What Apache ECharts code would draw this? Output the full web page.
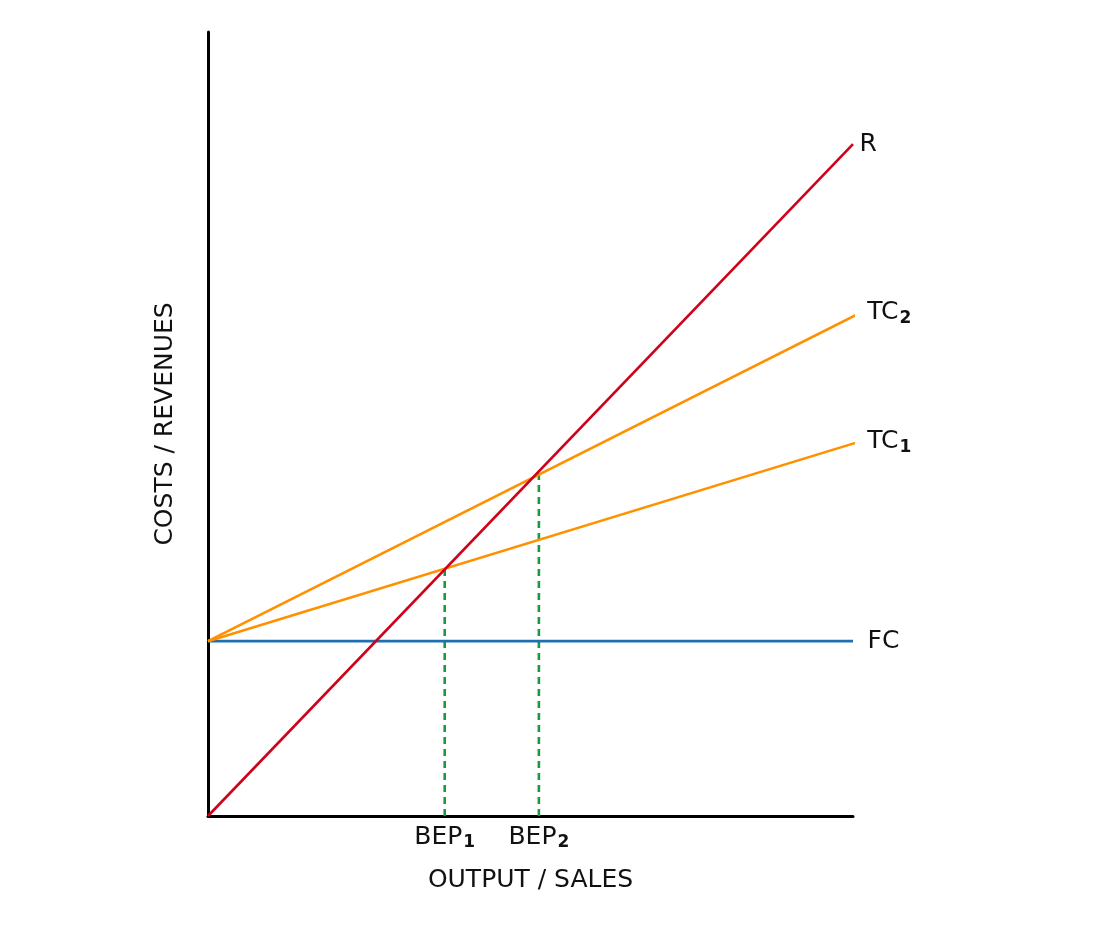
<!DOCTYPE html>
<html><head><meta charset="utf-8">
<script src="https://cdn.jsdelivr.net/npm/echarts@6/dist/echarts.min.js"></script>
<style>html,body{margin:0;padding:0;background:#fff}#c{width:1100px;height:934px}</style>
</head><body><div id="c"></div>
<script>
const revenue = [[0, 0], [100, 85.7]];
const tc2 = [[0, 22.3], [101.2, 64.2]];
const tc1 = [[0, 22.3], [101.2, 47.8]];
const fc = [[0, 22.3], [100, 22.3]];
const bep1 = [[36.7, 0], [36.7, 31.5]];
const bep2 = [[51.3, 0], [51.3, 43.8]];
const lineLabels = ['R', 'TC{s|2}', 'TC{s|1}', 'FC'];
const bepLabels = ['BEP{s|1}', 'BEP{s|2}'];
const axisNames = ['OUTPUT / SALES', 'COSTS / REVENUES'];

const FONT = 'DejaVu Sans';
const FS = 25;
const rich = {
  s: {fontSize: 17, fontWeight: 'bold', fontFamily: FONT, color: '#111', padding: [12, 0, 0, 1]}
};
const chart = echarts.init(document.getElementById('c'));
function endLab(text, dist) {
  return {show: true, formatter: p => p.dataIndex === 1 ? text : '', position: 'right', distance: dist,
    fontSize: FS, fontFamily: FONT, color: '#111', rich: rich};
}
const hidden = {color: 'rgba(0,0,0,0)', borderWidth: 0};
function line(data, color, text, dist) {
  return {type: 'line', data, symbol: 'circle', symbolSize: 1, showSymbol: true, itemStyle: hidden,
    clip: false, silent: true, lineStyle: {color, width: 2.6}, label: endLab(text, dist)};
}
function bep(data, text) {
  return {type: 'line', data, symbol: 'circle', symbolSize: 1, showSymbol: true, itemStyle: hidden,
    clip: false, silent: true, z: 1,
    lineStyle: {color: '#1a9a3c', width: 2.6, type: [7, 5]},
    label: {show: true, formatter: p => p.dataIndex === 0 ? text : '', position: 'bottom', distance: 6,
      fontSize: FS, fontFamily: FONT, color: '#111', rich: rich}};
}
chart.setOption({
  animation: false,
  grid: {left: 208, right: 247, top: 32, bottom: 118},
  xAxis: {type: 'value', min: 0, max: 100, name: axisNames[0], nameLocation: 'middle', nameGap: 52,
    nameTextStyle: {fontSize: FS, fontFamily: FONT, color: '#111'},
    axisLine: {show: true, onZero: false, lineStyle: {color: '#000', width: 3}},
    axisTick: {show: false}, axisLabel: {show: false}, splitLine: {show: false}},
  yAxis: {type: 'value', min: 0, max: 100, name: axisNames[1], nameLocation: 'middle', nameGap: 30, nameRotate: 90,
    nameTextStyle: {fontSize: FS, fontFamily: FONT, color: '#111'},
    axisLine: {show: true, onZero: false, lineStyle: {color: '#000', width: 3}},
    axisTick: {show: false}, axisLabel: {show: false}, splitLine: {show: false}},
  series: [
    bep(bep1, bepLabels[0]),
    bep(bep2, bepLabels[1]),
    line(fc, '#1f6fb2', lineLabels[3], 14),
    line(tc1, '#ff9100', lineLabels[2], 6),
    line(tc2, '#ff9100', lineLabels[1], 6),
    line(revenue, '#d0021b', lineLabels[0], 6)
  ]
});
</script></body></html>
